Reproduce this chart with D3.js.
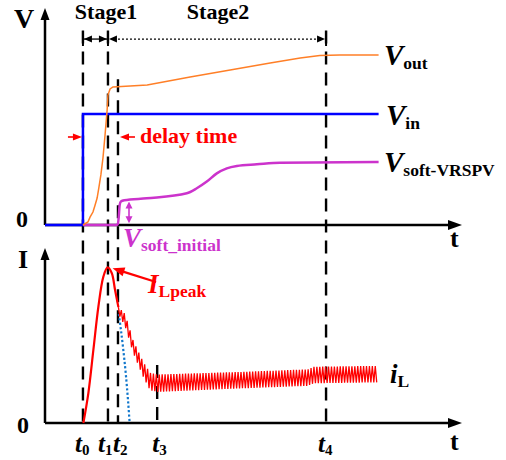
<!DOCTYPE html>
<html><head><meta charset="utf-8">
<script src="https://cdn.jsdelivr.net/npm/d3@7"></script>
<style>
html,body{margin:0;padding:0;background:#fff;}
svg{display:block;font-family:"Liberation Serif","Times New Roman",serif;font-weight:bold;}
</style></head><body>
<svg id="chart" width="506" height="460"></svg>
<script>
// switching instants t0..t4
const eventSubs = ["0", "1", "2", "3", "4"];
const eventTimes = [0.91, 1.51, 1.75, 2.69, 6.74];
const stageNames = ["Stage1", "Stage2"];

// input voltage step
const vinT = [0, 0.91, 0.91, 8.0];
const vinV = [0, 0, 6.17, 6.17];

// output voltage
const voutT = [0.91, 1.03, 1.08, 1.15, 1.20, 1.25, 1.29, 1.34, 1.39, 1.44, 1.49, 1.51, 1.56, 1.63, 2.04, 2.45, 3.48, 4.44, 5.40, 6.12, 6.59, 7.07, 8.0];
const voutV = [0, 0.17, 0.44, 0.72, 1.10, 1.50, 2.05, 2.78, 3.72, 5.00, 6.39, 7.22, 7.56, 7.67, 7.72, 7.78, 8.22, 8.61, 9.00, 9.28, 9.42, 9.44, 9.44];

// soft-start reference voltage
const vsoftT = [0.91, 1.71, 1.745, 1.77, 1.79, 1.82, 1.90, 2.44, 3.40, 3.64, 3.88, 4.12, 4.36, 4.60, 5.08, 5.64, 8.0];
const vsoftV = [0, 0, 0.05, 0.50, 1.10, 1.30, 1.37, 1.48, 1.76, 2.04, 2.41, 2.87, 3.15, 3.28, 3.37, 3.46, 3.50];

// inductor current, rise to peak
const ilRiseT = [0.92, 1.04, 1.16, 1.28, 1.40, 1.50, 1.60, 1.68, 1.76];
const ilRiseI = [0, 1.73, 4.22, 6.72, 8.46, 9.00, 8.67, 7.69, 6.70];

// inductor current ripple envelope after t2
const rippleT  = [1.76, 1.92, 2.11, 2.35, 2.52, 2.69, 4.68, 6.30, 6.45, 7.96];
const rippleHi = [6.70, 6.30, 4.80, 3.55, 2.90, 2.80, 2.95, 3.10, 3.25, 3.30];
const rippleLo = [6.30, 5.60, 4.10, 2.70, 1.90, 1.80, 2.00, 2.15, 2.30, 2.35];
const ripplePeriod = 0.07;

// current decay without soft start (dotted)
const ilFallT = [1.77, 1.87, 1.94, 1.99, 2.03];
const ilFallI = [6.30, 4.39, 2.77, 1.33, 0];

const svg = d3.select("#chart");
const x = d3.scaleLinear().domain([0, 10]).range([45, 462]);
const yV = d3.scaleLinear().domain([0, 12]).range([225, 9]);
const yI = d3.scaleLinear().domain([0, 10]).range([423, 250]);

const RED = "#ff0000", MAG = "#cc33cc", BLUE = "#0000ff", ORANGE = "#ff7f27", DOT_BLUE = "#1177cc";

function arrow(g, x1, y1, x2, y2, len, wid, color, sw, dash) {
  const dx = x2 - x1, dy = y2 - y1, L = Math.hypot(dx, dy);
  const ux = dx / L, uy = dy / L;
  const bx = x2 - ux * len, by = y2 - uy * len;
  g.append("line").attr("x1", x1).attr("y1", y1).attr("x2", bx + ux * 1).attr("y2", by + uy * 1)
    .attr("stroke", color).attr("stroke-width", sw).attr("stroke-dasharray", dash || null);
  g.append("path")
    .attr("d", `M${x2},${y2}L${bx - uy * wid / 2},${by + ux * wid / 2}L${bx + uy * wid / 2},${by - ux * wid / 2}Z`)
    .attr("fill", color);
}
function head(g, x2, y2, ux, uy, len, wid, color) {
  const bx = x2 - ux * len, by = y2 - uy * len;
  g.append("path")
    .attr("d", `M${x2},${y2}L${bx - uy * wid / 2},${by + ux * wid / 2}L${bx + uy * wid / 2},${by - ux * wid / 2}Z`)
    .attr("fill", color);
}
function subText(g, px, py, main, sub, mainSize, subSize, color, italicMain, italicSub, dy) {
  const t = g.append("text").attr("x", px).attr("y", py).attr("fill", color);
  t.append("tspan").text(main).attr("font-size", mainSize).attr("font-style", italicMain ? "italic" : "normal");
  t.append("tspan").text(sub).attr("font-size", subSize).attr("dy", dy).attr("font-style", italicSub ? "italic" : "normal");
  return t;
}

const gAxes = svg.append("g");
// voltage axes
arrow(gAxes, x(0), yV(0), x(0), 8, 12, 9, "#000", 2.5);
arrow(gAxes, x(0), yV(0), 462, yV(0), 14, 10, "#000", 2.5);
// current axes
arrow(gAxes, x(0), yI(0), x(0), 248, 12, 9, "#000", 2.5);
arrow(gAxes, x(0), yI(0), 462, yI(0), 14, 10, "#000", 2.5);

gAxes.append("text").attr("x", 14).attr("y", 28).attr("font-size", 28).text("V");
gAxes.append("text").attr("x", 18).attr("y", 268).attr("font-size", 26).text("I");
gAxes.append("text").attr("x", 16).attr("y", yV(0) + 2).attr("font-size", 24).text("0");
gAxes.append("text").attr("x", 17).attr("y", yI(0) + 10).attr("font-size", 24).text("0");
gAxes.append("text").attr("x", 450).attr("y", yV(0) + 22).attr("font-size", 26).text("t");
gAxes.append("text").attr("x", 450).attr("y", yI(0) + 27).attr("font-size", 26).text("t");

// dashed markers for each instant, with their labels below the time axis
const dashTop = [yV(10.8), yV(10.8), yV(8.1), yI(3.35), yV(10.8)];
const labelShift = [-8, -10, -5, -5, -8];
const gDash = svg.append("g");
eventTimes.forEach((t, i) => {
  gDash.append("line").attr("x1", x(t)).attr("x2", x(t)).attr("y1", dashTop[i]).attr("y2", yI(0))
    .attr("stroke", "#000").attr("stroke-width", 2.4).attr("stroke-dasharray", "13,8");
  subText(gDash, x(t) + labelShift[i], 452, "t", eventSubs[i], 25, 15, "#000", true, false, 3);
});

// stage spans
const gStage = svg.append("g");
const sy = yV(10.33);
const s0 = x(eventTimes[0]), s1 = x(eventTimes[1]), s4 = x(eventTimes[4]);
gStage.append("line").attr("x1", s0).attr("x2", s1).attr("y1", sy).attr("y2", sy).attr("stroke", "#000").attr("stroke-width", 1.3);
head(gStage, s0 + 1, sy, -1, 0, 8, 7, "#000");
head(gStage, s1 - 1, sy, 1, 0, 8, 7, "#000");
gStage.append("line").attr("x1", s1 + 6).attr("x2", s4 - 6).attr("y1", sy).attr("y2", sy)
  .attr("stroke", "#000").attr("stroke-width", 1.2).attr("stroke-dasharray", "2,2");
head(gStage, s1 + 1, sy, -1, 0, 8, 7, "#000");
head(gStage, s4 - 1, sy, 1, 0, 8, 7, "#000");
[s0, s1, s4].forEach(px => gStage.append("line").attr("x1", px).attr("x2", px).attr("y1", 31).attr("y2", 46)
  .attr("stroke", "#000").attr("stroke-width", 2));
gStage.append("text").attr("x", 106).attr("y", 19).attr("text-anchor", "middle").attr("font-size", 22).text(stageNames[0]);
gStage.append("text").attr("x", 218).attr("y", 19).attr("text-anchor", "middle").attr("font-size", 22).text(stageNames[1]);

// voltage traces
const lineV = (ts, vs, curve) => d3.line().x(d => x(d[0])).y(d => yV(d[1])).curve(curve || d3.curveLinear)(ts.map((t, i) => [t, vs[i]]));
svg.append("path").attr("d", lineV(vinT, vinV)).attr("fill", "none").attr("stroke", BLUE).attr("stroke-width", 2.5);
svg.append("path").attr("d", lineV(vsoftT, vsoftV, d3.curveMonotoneX)).attr("fill", "none").attr("stroke", MAG).attr("stroke-width", 2.5);
svg.append("path").attr("d", lineV(voutT, voutV)).attr("fill", "none").attr("stroke", ORANGE).attr("stroke-width", 1.5);

// current traces
const lineI = (pts, curve) => d3.line().x(d => x(d[0])).y(d => yI(d[1])).curve(curve || d3.curveLinear)(pts);
svg.append("path").attr("d", lineI(ilFallT.map((t, i) => [t, ilFallI[i]]), d3.curveMonotoneX))
  .attr("fill", "none").attr("stroke", DOT_BLUE).attr("stroke-width", 2.2).attr("stroke-dasharray", "2.2,2.2");
svg.append("path").attr("d", lineI(ilRiseT.map((t, i) => [t, ilRiseI[i]]), d3.curveCatmullRom))
  .attr("fill", "none").attr("stroke", RED).attr("stroke-width", 2.2);
const envHi = d3.scaleLinear().domain(rippleT).range(rippleHi);
const envLo = d3.scaleLinear().domain(rippleT).range(rippleLo);
const ripplePts = [];
const tEnd = rippleT[rippleT.length - 1];
for (let k = 0, t = rippleT[0]; t <= tEnd + 1e-9; k++, t = rippleT[0] + k * ripplePeriod / 2) {
  ripplePts.push([t, k % 2 === 0 ? envHi(t) : envLo(t)]);
}
svg.append("path").attr("d", lineI(ripplePts)).attr("fill", "none").attr("stroke", RED).attr("stroke-width", 1.3);

// annotations
const gAnn = svg.append("g");
const tx0 = x(eventTimes[0]), tx2 = x(eventTimes[2]);
arrow(gAnn, tx0 - 15, 137, tx0 - 1, 137, 9, 7, RED, 1.6);
arrow(gAnn, tx2 + 17, 137, tx2 + 2, 137, 9, 7, RED, 1.6);
gAnn.append("text").attr("x", 140).attr("y", 143).attr("font-size", 22).attr("fill", RED).text("delay time");

// initial soft-start step
const ax = 129, ayTop = yV(1.3), ayBot = yV(0.1);
gAnn.append("line").attr("x1", ax).attr("x2", ax).attr("y1", ayTop + 5).attr("y2", ayBot - 5).attr("stroke", MAG).attr("stroke-width", 1.6);
head(gAnn, ax, ayTop, 0, -1, 7, 7, MAG);
head(gAnn, ax, ayBot, 0, 1, 7, 7, MAG);
subText(gAnn, 123, 247, "V", "soft_initial", 27, 17.5, MAG, true, false, 4);

// peak current pointer
const px = x(1.50), py = yI(9.0);
arrow(gAnn, 156, 282, px + 5, py + 1, 12, 9, RED, 2.2);
subText(gAnn, 148, 293, "I", "Lpeak", 27, 17.5, RED, true, false, 4);

// trace labels
subText(gAnn, 384, 65, "V", "out", 29, 17.5, "#000", true, false, 4);
subText(gAnn, 386, 125, "V", "in", 29, 17.5, "#000", true, false, 4);
subText(gAnn, 384, 172, "V", "soft-VRSPV", 29, 17.5, "#000", true, false, 4);
subText(gAnn, 390, 383, "i", "L", 27, 17.5, "#000", true, false, 4);
</script>
</body></html>
